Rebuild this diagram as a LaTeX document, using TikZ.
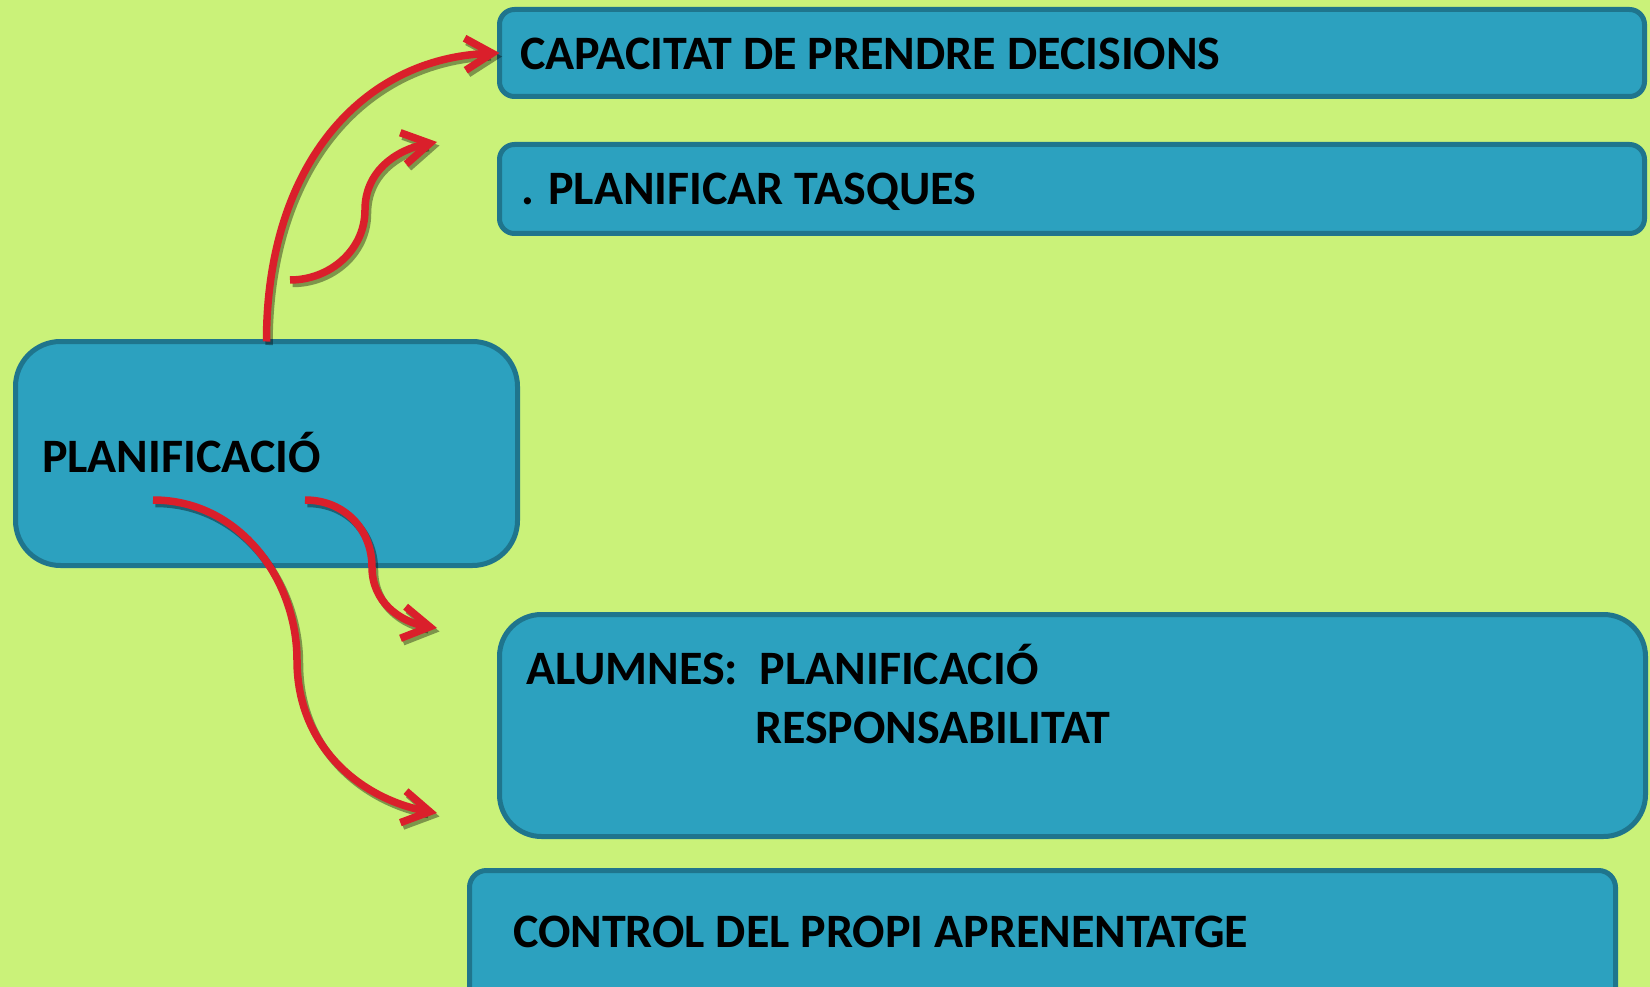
\documentclass[tikz,border=0pt]{standalone}
\usepackage{fontspec}
\setmainfont{Carlito}
\usetikzlibrary{arrows.meta}
\definecolor{bgc}{RGB}{202,242,121}
\definecolor{boxfill}{RGB}{44,161,191}
\definecolor{boxline}{RGB}{31,117,141}
\definecolor{redarrow}{RGB}{218,31,43}
\tikzset{
  box/.style={draw=boxline, fill=boxfill, line width=5pt, rectangle, outer sep=0pt, inner sep=0pt, anchor=north west},
  lbl/.style={anchor=base west, inner sep=0pt, outer sep=0pt, text=black, font=\fontsize{48}{59}\selectfont\bfseries},
  arr/.style={draw=redarrow, line width=7.5pt, -{Straight Barb[length=27pt,width=32pt]}},
  shad/.style={draw=black, draw opacity=0.38, line width=7.5pt, -{Straight Barb[length=27pt,width=32pt]}, transform canvas={shift={(2.5pt,-3.5pt)}}}
}
\begin{document}
\begin{tikzpicture}[x=1pt,y=-1pt]
\fill[bgc] (0,0) rectangle (1650,987);
\useasboundingbox (0,0) rectangle (1650,987);

% boxes
\node[box, rounded corners=15pt, minimum width=1145pt, minimum height=87pt] (b1) at (499.5,9.5) {};
\node[box, rounded corners=15pt, minimum width=1145pt, minimum height=89pt] (b2) at (499.5,144.5) {};
\node[box, rounded corners=45pt, minimum width=502pt, minimum height=224pt] (p) at (15.5,341.5) {};
\node[box, rounded corners=42pt, minimum width=1146pt, minimum height=222pt] (b3) at (499.5,614.5) {};
\node[box, rounded corners=17pt, minimum width=1146pt, minimum height=150pt] (b4) at (469.5,870.5) {};

% texts
\node[lbl] (t1) at (520,70) {CAPACITAT DE PRENDRE DECISIONS};
\node[lbl] (t2) at (521,205) {. PLANIFICAR TASQUES};
\node[lbl] (tp) at (42,472) {PLANIFICACIÓ};
\node[lbl] (t3a) at (526,684) {ALUMNES:\ \ PLANIFICACIÓ};
\node[lbl] (t3b) at (755,743) {RESPONSABILITAT};
\node[lbl] (t4) at (513,947) {CONTROL DEL PROPI APRENENTATGE};

% free coordinates
\coordinate (a2s) at (290,280);
\coordinate (a2e) at (437,142);
\coordinate (a3s) at (153,500);
\coordinate (a3e) at (437,813);
\coordinate (a4s) at (305,500);
\coordinate (a4e) at (437,628);

% shadows
\draw[shad] (p.north) .. controls (266.5,165) and (362,58) .. (b1.west);
\draw[shad] (a2s) .. controls (330,280) and (365,250) .. (365,210) .. controls (365,172) and (395,150) .. (a2e);
\draw[shad] (a3s) .. controls (240,500) and (297,580) .. (297,660) .. controls (297,750) and (365,800) .. (a3e);
\draw[shad] (a4s) .. controls (345,500) and (372,530) .. (372,567) .. controls (372,602) and (400,622) .. (a4e);

% arrows
\draw[arr] (p.north) .. controls (266.5,165) and (362,58) .. (b1.west);
\draw[arr] (a2s) .. controls (330,280) and (365,250) .. (365,210) .. controls (365,172) and (395,150) .. (a2e);
\draw[arr] (a3s) .. controls (240,500) and (297,580) .. (297,660) .. controls (297,750) and (365,800) .. (a3e);
\draw[arr] (a4s) .. controls (345,500) and (372,530) .. (372,567) .. controls (372,602) and (400,622) .. (a4e);
\end{tikzpicture}
\end{document}
